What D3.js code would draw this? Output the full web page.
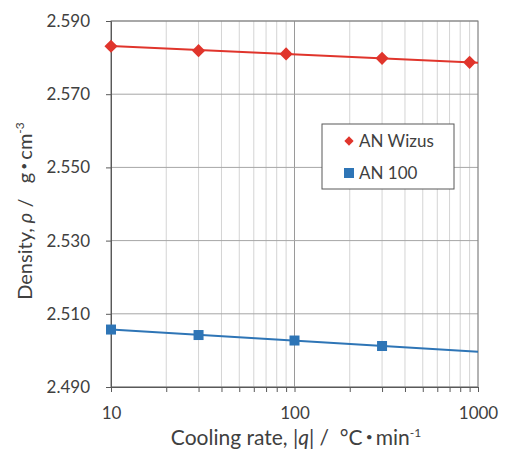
<!DOCTYPE html>
<html>
<head>
<meta charset="utf-8">
<script src="https://cdn.jsdelivr.net/npm/d3@7"></script>
<style>
  body { margin: 0; background: #fff; }
  text { font-family: Lato, "Open Sans", sans-serif; fill: #404040; }
</style>
</head>
<body>
<svg id="chart" width="505" height="455"></svg>
<script>
// data
var wizusRate = [10, 30, 90, 300, 900];
var wizusDensity = [2.5831, 2.5819, 2.5810, 2.5798, 2.5787];
var an100Rate = [10, 30, 100, 300];
var an100Density = [2.5057, 2.5042, 2.5027, 2.5012];
// fitted trend lines (end points as drawn)
var trendRate = [10, 1000];
var wizusTrend = [2.5832, 2.5786];
var an100Trend = [2.5057, 2.4996];
var yTicks = [2.49, 2.51, 2.53, 2.55, 2.57, 2.59];
var xTicks = [10, 100, 1000];

var red = "#e0352c", blue = "#2e75b6";
var margin = { left: 111, right: 27, top: 21, bottom: 68 };
var W = 505, H = 455;

var svg = d3.select("#chart");

var x = d3.scaleLog().domain([10, 1000]).range([margin.left, W - margin.right]);
var y = d3.scaleLinear().domain([2.49, 2.59]).range([H - margin.bottom, margin.top]);

// minor log positions
var minor = [];
for (var d = 10; d < 1000; d *= 10) {
  for (var k = 1; k <= 9; k++) minor.push(d * k);
}
minor.push(1000);

// vertical grid
svg.append("g").selectAll("line").data(minor).join("line")
  .attr("x1", function (v) { return x(v); })
  .attr("x2", function (v) { return x(v); })
  .attr("y1", y(2.49)).attr("y2", y(2.59))
  .attr("stroke", function (v) { return v === 100 ? "#9a9a9a" : "#d4d4d4"; })
  .attr("stroke-width", 1);

// horizontal grid
svg.append("g").selectAll("line").data(yTicks).join("line")
  .attr("x1", x(10)).attr("x2", x(1000))
  .attr("y1", function (v) { return y(v); })
  .attr("y2", function (v) { return y(v); })
  .attr("stroke", "#a6a6a6").attr("stroke-width", 1);

// frame
svg.append("rect")
  .attr("x", x(10)).attr("y", y(2.59))
  .attr("width", x(1000) - x(10)).attr("height", y(2.49) - y(2.59))
  .attr("fill", "none").attr("stroke", "#7f7f7f").attr("stroke-width", 1);

// y axis
var yAxis = d3.axisLeft(y).tickValues(yTicks).tickSize(5).tickPadding(16)
  .tickFormat(d3.format(".3f"));
var gy = svg.append("g").attr("transform", "translate(" + x(10) + ",0)").call(yAxis);
gy.select(".domain").attr("stroke", "#595959");
gy.selectAll(".tick line").attr("stroke", "#595959");
gy.selectAll("text").style("font-size", "17px").attr("fill", "#404040");

// x axis with minor ticks
var xAxis = d3.axisBottom(x).tickValues(minor).tickSize(5).tickPadding(15)
  .tickFormat(function (v) { return xTicks.indexOf(v) >= 0 ? v : ""; });
var gx = svg.append("g").attr("transform", "translate(0," + y(2.49) + ")").call(xAxis);
gx.select(".domain").attr("stroke", "#595959");
gx.selectAll(".tick line").attr("stroke", "#595959");
gx.selectAll("text").style("font-size", "17px").attr("fill", "#404040");

// trend lines
var line = d3.line().x(function (d) { return x(d[0]); }).y(function (d) { return y(d[1]); });
svg.append("path").datum(d3.zip(trendRate, wizusTrend))
  .attr("d", line).attr("fill", "none").attr("stroke", red).attr("stroke-width", 2);
svg.append("path").datum(d3.zip(trendRate, an100Trend))
  .attr("d", line).attr("fill", "none").attr("stroke", blue).attr("stroke-width", 2);

// markers
var diamond = d3.symbol().type(d3.symbolDiamond2).size(110);
svg.append("g").selectAll("path").data(d3.zip(wizusRate, wizusDensity)).join("path")
  .attr("d", diamond)
  .attr("transform", function (d) { return "translate(" + x(d[0]) + "," + y(d[1]) + ")"; })
  .attr("fill", red);
svg.append("g").selectAll("rect").data(d3.zip(an100Rate, an100Density)).join("rect")
  .attr("x", function (d) { return x(d[0]) - 5; })
  .attr("y", function (d) { return y(d[1]) - 5; })
  .attr("width", 10).attr("height", 10)
  .attr("fill", blue);

// legend
var lg = svg.append("g").attr("transform", "translate(322,124)");
lg.append("rect").attr("width", 132).attr("height", 65)
  .attr("fill", "#fff").attr("stroke", "#595959").attr("stroke-width", 1);
lg.append("path").attr("d", d3.symbol().type(d3.symbolDiamond2).size(55))
  .attr("transform", "translate(27,17)").attr("fill", red);
lg.append("text").attr("x", 37).attr("y", 23).style("font-size", "17px").text("AN Wizus");
lg.append("rect").attr("x", 22).attr("y", 44).attr("width", 10).attr("height", 10).attr("fill", blue);
lg.append("text").attr("x", 37).attr("y", 55).style("font-size", "17px").text("AN 100");

// axis titles
var xt = svg.append("text").attr("x", 296).attr("y", 445)
  .attr("text-anchor", "middle").style("font-size", "21px").attr("xml:space", "preserve");
xt.append("tspan").text("Cooling rate, |");
xt.append("tspan").style("font-style", "italic").text("q");
xt.append("tspan").text("| /  \u00b0C");
xt.append("tspan").attr("dy", -4).style("font-size", "12px").text(" \u2022 ");
xt.append("tspan").attr("dy", 4).text("min");
xt.append("tspan").attr("dy", -8).style("font-size", "12px").text("-1");

var yt = svg.append("text").attr("transform", "translate(32,211) rotate(-90)")
  .attr("text-anchor", "middle").style("font-size", "20px").attr("xml:space", "preserve");
yt.append("tspan").text("Density, ");
yt.append("tspan").style("font-style", "italic").text("\u03c1");
yt.append("tspan").text(" /   g");
yt.append("tspan").attr("dy", -4).style("font-size", "12px").text(" \u2022 ");
yt.append("tspan").attr("dy", 4).text("cm");
yt.append("tspan").attr("dy", -8).style("font-size", "12px").text("-3");
</script>
</body>
</html>
